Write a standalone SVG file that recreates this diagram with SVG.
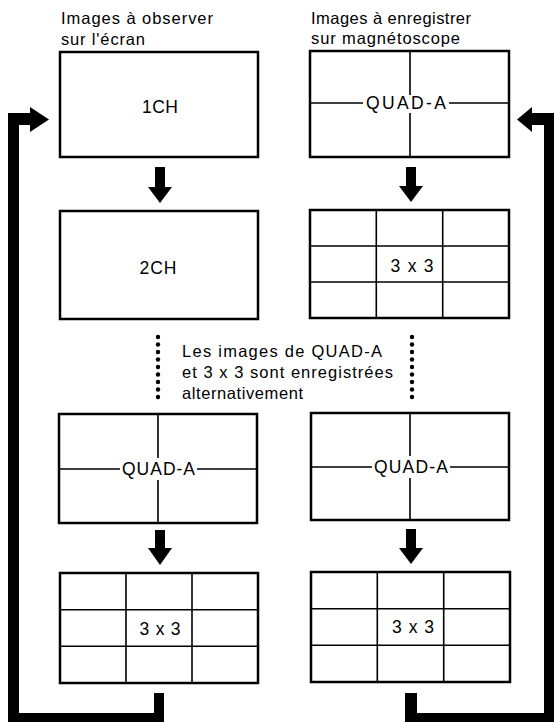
<svg xmlns="http://www.w3.org/2000/svg" width="554" height="722" viewBox="0 0 554 722">
<style>
text{font-family:"Liberation Sans",Arial,Helvetica,sans-serif;fill:#000}
.t{font-size:16.5px}
.l{font-size:17.5px;text-anchor:middle}
.box{fill:#fff;stroke:#000;stroke-width:2.5}
.div{stroke:#000;stroke-width:1.6;fill:none}
.arr{fill:#000;stroke:none}
.dot{fill:#000}
</style>
<rect width="554" height="722" fill="#fff"/>
<g id="titles">
<text class="t" x="61" y="24" textLength="152" lengthAdjust="spacing">Images à observer</text>
<text class="t" x="61" y="45" textLength="84" lengthAdjust="spacing">sur l'écran</text>
<text class="t" x="311" y="24" textLength="160" lengthAdjust="spacing">Images à enregistrer</text>
<text class="t" x="311" y="44" textLength="149" lengthAdjust="spacing">sur magnétoscope</text>
</g>
<g id="node-1ch">
<rect class="box" x="60" y="52" width="198" height="105"/>
<text class="l" x="160" y="113" textLength="36" lengthAdjust="spacing">1CH</text>
</g>
<g id="node-quad-top">
<rect class="box" x="310" y="51" width="199" height="106"/>
<path class="div" d="M310 103H363M449 103H509M410 51V95M410 113V157"/>
<text class="l" x="406" y="109" textLength="80" lengthAdjust="spacing">QUAD-A</text>
</g>
<g id="node-2ch">
<rect class="box" x="60" y="211" width="198" height="108"/>
<text class="l" x="158" y="274" textLength="37" lengthAdjust="spacing">2CH</text>
</g>
<g id="node-3x3-top">
<rect class="box" x="310" y="210" width="199" height="108"/>
<path class="div" d="M376.3 210V318M442.7 210V318M310 246H509M310 282H509"/>
<text class="l" x="412" y="272" textLength="43" lengthAdjust="spacing">3 x 3</text>
</g>
<g id="note">
<text class="t" x="182" y="357" textLength="200" lengthAdjust="spacing">Les images de QUAD-A</text>
<text class="t" x="182" y="378" textLength="211" lengthAdjust="spacing">et 3 x 3 sont enregistrées</text>
<text class="t" x="182" y="399" textLength="121" lengthAdjust="spacing">alternativement</text>
</g>
<g id="node-quad-left">
<rect class="box" x="59" y="414" width="198" height="109"/>
<path class="div" d="M59 469H120M197 469H257M158 414V458M158 480V523"/>
<text class="l" x="158.5" y="475" textLength="73" lengthAdjust="spacing">QUAD-A</text>
</g>
<g id="node-quad-right">
<rect class="box" x="311" y="413" width="198" height="107"/>
<path class="div" d="M311 467H372M450 467H509M410 413V456M410 478V520"/>
<text class="l" x="411" y="473" textLength="74" lengthAdjust="spacing">QUAD-A</text>
</g>
<g id="node-3x3-left">
<rect class="box" x="60" y="573" width="198" height="110"/>
<path class="div" d="M126 573V683M192 573V683M60 609.7H258M60 646.3H258"/>
<text class="l" x="160" y="635" textLength="41" lengthAdjust="spacing">3 x 3</text>
</g>
<g id="node-3x3-right">
<rect class="box" x="311" y="572" width="199" height="110"/>
<path class="div" d="M377.3 572V682M443.7 572V682M311 608.7H510M311 645.3H510"/>
<text class="l" x="413" y="633" textLength="42" lengthAdjust="spacing">3 x 3</text>
</g>
<g id="connectors">
<polygon class="arr" points="155,167 165,167 165,187 172,187 160,203 148,187 155,187"/>
<polygon class="arr" points="406,167 416,167 416,186 423,186 411,202 399,186 406,186"/>
<polygon class="arr" points="155,530 165,530 165,548 172,548 160,565 148,548 155,548"/>
<polygon class="arr" points="406,529 416,529 416,548 423,548 411,564 399,548 406,548"/>
<polygon class="arr" points="154,693 164,693 164,724 8,724 8,113 30,113 30,107 49,119.5 30,132 30,125 19,125 19,713 154,713"/>
<polygon class="arr" points="405,693 417,693 417,713 544,713 544,125 532,125 532,132 517,119.5 532,107 532,113 556,113 556,724 405,724"/>
<g class="dot">
<circle cx="158" cy="337" r="2.2"/><circle cx="158" cy="344.5" r="2.2"/><circle cx="158" cy="352" r="2.2"/><circle cx="158" cy="359.5" r="2.2"/><circle cx="158" cy="367" r="2.2"/><circle cx="158" cy="374.5" r="2.2"/><circle cx="158" cy="382" r="2.2"/><circle cx="158" cy="389.5" r="2.2"/><circle cx="158" cy="397" r="2.2"/>
<circle cx="412" cy="337" r="2.2"/><circle cx="412" cy="344.5" r="2.2"/><circle cx="412" cy="352" r="2.2"/><circle cx="412" cy="359.5" r="2.2"/><circle cx="412" cy="367" r="2.2"/><circle cx="412" cy="374.5" r="2.2"/><circle cx="412" cy="382" r="2.2"/><circle cx="412" cy="389.5" r="2.2"/><circle cx="412" cy="397" r="2.2"/>
</g>
</g>
</svg>
